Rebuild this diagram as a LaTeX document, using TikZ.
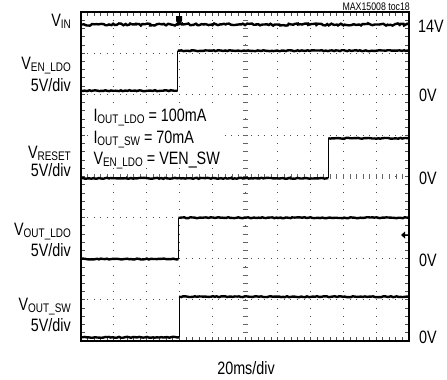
\documentclass[tikz,border=0pt]{standalone}
\usepackage{fontspec}
\setmainfont{Liberation Sans}[FakeStretch=0.8]
\usetikzlibrary{decorations.pathmorphing}
\newcommand{\lowsub}[1]{\raisebox{-2bp}{\fontsize{12.5}{12.5}\selectfont #1}}
\begin{document}
\begin{tikzpicture}[x=1bp,y=-1bp,font=\fontsize{18}{18}\selectfont,
  trace/.style={line width=2.4bp,decorate,decoration={random steps,segment length=2bp,amplitude=0.5bp}},
  edge/.style={line width=0.9bp}]
\useasboundingbox[fill=white] (0,0) rectangle (447,379);
\foreach \i in {1,...,9}
  \draw[black!70,line width=1bp,dash pattern=on 1bp off 7.225bp] ({81+\i*32.8},19.7) -- ({81+\i*32.8},341);
\foreach \j in {1,...,7}
  \draw[black!70,line width=1bp,dash pattern=on 1bp off 5.56bp] (87.1,{12+\j*41.125}) -- (409,{12+\j*41.125});
\foreach \k in {1,...,39}
  \draw[black!60,line width=0.7bp] (242.5,{12+\k*8.225}) -- (247.5,{12+\k*8.225});
\foreach \k in {1,...,49}
  \draw[black!60,line width=0.7bp] ({81+\k*6.56},174) -- ({81+\k*6.56},179);
\foreach \k in {1,...,49}
  \draw[black!70,line width=0.8bp] ({81+\k*6.56},12) -- ({81+\k*6.56},16) ({81+\k*6.56},337) -- ({81+\k*6.56},341);
\foreach \k in {1,...,39}
  \draw[black!70,line width=0.8bp] (81,{12+\k*8.225}) -- (85,{12+\k*8.225}) (405,{12+\k*8.225}) -- (409,{12+\k*8.225});
\fill[white] (88,104) rectangle (219,168);
\draw[trace,decoration={amplitude=1.1bp}] (81,24.5) -- (409,24.5);
\draw[trace] (81,90.7) -- (177.7,90.7);
\draw[edge] (177.7,90.7) -- (177.7,50.7);
\draw[trace] (177.7,50.7) -- (409,50.7);
\draw[trace] (81,178.3) -- (328.3,178.3);
\draw[edge] (328.3,178.3) -- (328.3,138.3);
\draw[trace] (328.3,138.3) -- (409,138.3);
\draw[trace] (81,259) -- (178.3,259);
\draw[edge] (178.3,259) -- (178.3,217.7);
\draw[trace] (178.3,217.7) -- (409,217.7);
\draw[trace] (81,337.3) -- (179,337.3);
\draw[edge] (179,337.3) -- (179,296.7);
\draw[trace] (179,296.7) -- (409,296.7);
\draw[line width=2.5bp] (81,12) rectangle (409,341);
\draw[line width=1bp] (179,12) -- (179,16);
\fill (176,16) -- (182,16) -- (182,21) -- (179,25) -- (176,21) -- cycle;
\draw[line width=1bp] (405,235) -- (409,235);
\fill (401,235) -- (405,231.5) -- (405,238.5) -- cycle;
\node[anchor=base east,inner sep=0] (vin) at (71,26) {V\lowsub{IN}};
\node[anchor=base east,inner sep=0] (venldo) at (71,69.3) {V\lowsub{EN\_LDO}};
\node[anchor=base east,inner sep=0] (divA) at (71,91.7) {5V/div};
\node[anchor=base east,inner sep=0] (vreset) at (71,158.8) {V\lowsub{RESET}};
\node[anchor=base east,inner sep=0] (divB) at (71,176.8) {5V/div};
\node[anchor=base east,inner sep=0] (voutldo) at (71,235.5) {V\lowsub{OUT\_LDO}};
\node[anchor=base east,inner sep=0] (divC) at (71,256) {5V/div};
\node[anchor=base east,inner sep=0] (voutsw) at (71,310) {V\lowsub{OUT\_SW}};
\node[anchor=base east,inner sep=0] (divD) at (71,331.7) {5V/div};
\node[anchor=base west,inner sep=0] (lvA) at (418,32.3) {14V};
\node[anchor=base west,inner sep=0] (lvB) at (419,101.7) {0V};
\node[anchor=base west,inner sep=0] (lvC) at (419,184) {0V};
\node[anchor=base west,inner sep=0] (lvD) at (419,266) {0V};
\node[anchor=base west,inner sep=0] (lvE) at (419,343) {0V};
\node[anchor=base,inner sep=0] (tdiv) at (246,374) {20ms/div};
\node[anchor=base east,inner sep=0,font=\fontsize{11}{11}\selectfont] (toc) at (410,10) {MAX15008 toc18};
\node[anchor=base west,inner sep=0] (ildo) at (93.3,121.7) {I\lowsub{OUT\_LDO} = 100mA};
\node[anchor=base west,inner sep=0] (isw) at (93.3,143.3) {I\lowsub{OUT\_SW} = 70mA};
\node[anchor=base west,inner sep=0] (ven) at (93.3,164) {V\lowsub{EN\_LDO} = VEN\_SW};
\end{tikzpicture}
\end{document}
